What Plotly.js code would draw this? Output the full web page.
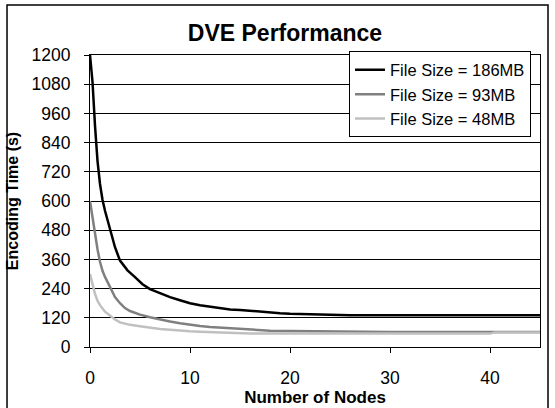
<!DOCTYPE html>
<html>
<head>
<meta charset="utf-8">
<script src="https://cdn.plot.ly/plotly-3.0.1.min.js"></script>
<style>
html,body{margin:0;padding:0;background:#fff;}
#chart{width:555px;height:408px;}
</style>
</head>
<body>
<div id="chart"></div>
<script>
// Series data
const nodes186 = [0, 0.25, 0.5, 0.75, 1, 1.25, 1.5, 2, 2.5, 3, 3.25, 3.75, 4.5, 5.25, 6, 7, 8, 9, 10, 11, 12, 13, 14, 15, 16, 17, 18, 19, 20, 22, 24, 26, 30, 35, 40, 45];
const time186  = [1200, 1090, 910, 765, 670, 605, 560, 480, 410, 355, 340, 315, 287, 258, 238, 220, 205, 192, 180, 172, 166, 158, 154, 152, 148, 144, 141, 139, 137, 136, 133, 130, 130, 130, 130, 130];

const nodes93 = [0, 0.25, 0.5, 0.75, 1, 1.25, 1.5, 2, 2.5, 3, 3.5, 4, 5, 6, 7, 8, 9, 10, 11, 12, 13, 14, 15, 16, 17, 18, 20, 22, 24, 25, 30, 35, 40, 45];
const time93  = [600, 530, 455, 402, 350, 313, 288, 245, 205, 180, 160, 148, 133, 122, 112, 105, 98, 91, 86, 82, 79, 76, 73, 71, 69, 67, 66, 65, 64, 62, 62, 62, 62, 62];

const nodes48 = [0, 0.25, 0.5, 0.75, 1, 1.5, 2, 2.5, 3, 3.5, 4, 5, 6, 7, 8, 9, 10, 11, 12, 13, 14, 15, 16, 20, 30, 40, 40.5, 45];
const time48  = [300, 252, 218, 190, 172, 145, 128, 113, 101, 95, 91, 85, 79, 74, 71, 67, 65, 63, 62, 60, 59, 57, 55, 55, 55, 55, 60, 60];

const seriesNames = ["File Size = 186MB", "File Size = 93MB", "File Size = 48MB"];
const xTicks = [0, 10, 20, 30, 40];
const yTicks = [0, 120, 240, 360, 480, 600, 720, 840, 960, 1080, 1200];

const font = "Arial, 'Liberation Sans', Helvetica, sans-serif";

const traces = [
  {x: nodes186, y: time186, name: seriesNames[0], mode: "lines", line: {color: "#000000", width: 2.5}},
  {x: nodes93,  y: time93,  name: seriesNames[1], mode: "lines", line: {color: "#808080", width: 2.5}},
  {x: nodes48,  y: time48,  name: seriesNames[2], mode: "lines", line: {color: "#c0c0c0", width: 2.5}}
];

const layout = {
  width: 555, height: 408,
  margin: {l: 90, r: 15, t: 55, b: 61, pad: 0},
  paper_bgcolor: "#ffffff", plot_bgcolor: "#ffffff",
  font: {family: font, color: "#000000"},
  title: {text: "<b>DVE Performance</b>", font: {size: 23, family: font, color: "#000"},
          x: 0.5135, xanchor: "center", xref: "container", y: 0.919, yanchor: "middle", yref: "container"},
  showlegend: true,
  legend: {x: 0.5756, y: 1.012, xanchor: "left", yanchor: "top",
           bgcolor: "#ffffff", bordercolor: "#000000", borderwidth: 1,
           font: {size: 16.5, family: font, color: "#000"}, itemwidth: 30, tracegroupgap: 0},
  xaxis: {
    range: [0, 45], tickvals: xTicks, ticktext: xTicks.map(String),
    ticks: "outside", ticklen: 5, tickcolor: "#000", tickwidth: 1,
    showline: true, linecolor: "#000", linewidth: 1, mirror: true,
    showgrid: false, zeroline: false,
    tickfont: {size: 17.5, family: font, color: "#000"}, ticklabelstandoff: 10,
    title: {text: "<b>Number of Nodes</b>", font: {size: 17, family: font, color: "#000"}, standoff: 3}
  },
  yaxis: {
    range: [0, 1200], tickvals: yTicks, ticktext: yTicks.map(String),
    ticks: "outside", ticklen: 5, tickcolor: "#000", tickwidth: 1,
    showline: true, linecolor: "#000", linewidth: 1, mirror: true,
    showgrid: true, gridcolor: "#000", gridwidth: 1, zeroline: false,
    tickfont: {size: 17.5, family: font, color: "#000"}, ticklabelstandoff: 10,
    title: {text: "<b>Encoding Time (s)</b>", font: {size: 16, family: font, color: "#000"}, standoff: 8}
  },
  shapes: [
    {type: "rect", xref: "paper", yref: "paper", x0: -0.1844, x1: 1.0178, y0: -0.22, y1: 1.1712,
     line: {color: "#000", width: 1.5}, fillcolor: "rgba(0,0,0,0)", layer: "below"}
  ]
};

Plotly.newPlot("chart", traces, layout, {displayModeBar: false, staticPlot: true});
</script>
</body>
</html>
